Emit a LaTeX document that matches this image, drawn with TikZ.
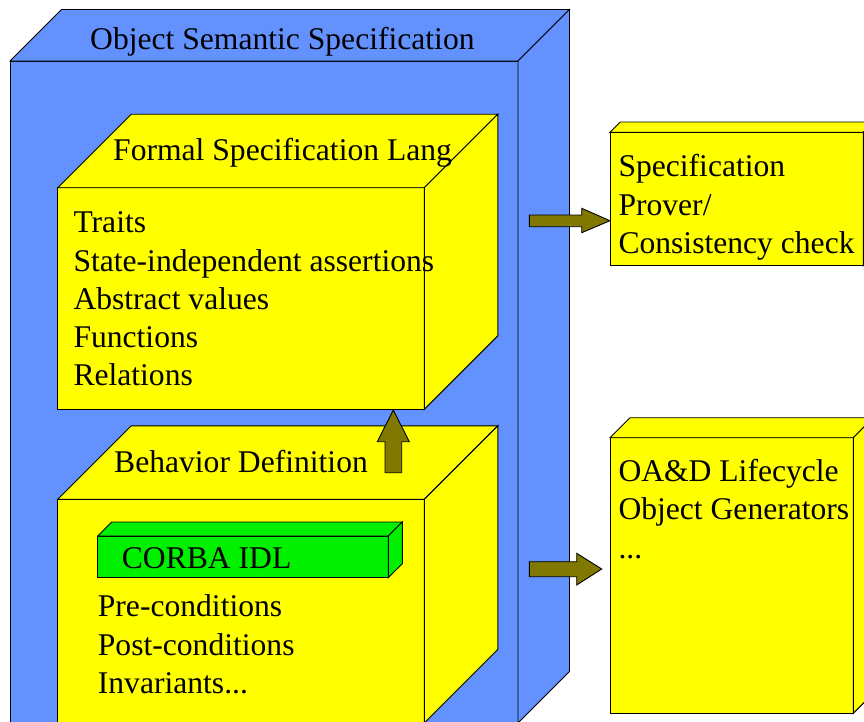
\documentclass[tikz,border=0pt]{standalone}
\usepackage{fontspec}
\setmainfont{Liberation Serif}
\definecolor{bluebox}{RGB}{99,146,255}
\definecolor{ybox}{RGB}{255,255,0}
\definecolor{gbox}{RGB}{0,240,0}
\definecolor{olivearrow}{RGB}{128,120,0}
\tikzset{
  face/.style={draw=black, line width=0.9pt, line join=miter},
  lbl/.style={anchor=base west, inner sep=0pt, font=\fontsize{31.6}{38}\selectfont},
  fatarrow/.style={draw=black, line width=0.9pt, fill=olivearrow, line join=miter},
}
% front top-left x,y ; front bottom-right x,y ; depth ; colour
\newcommand\mycuboid[6]{%
  \filldraw[face, fill=#6] (#1,#2) rectangle (#3,#4);
  \filldraw[face, fill=#6] (#1,#2) -- ({#1+#5},{#2-#5}) -- ({#3+#5},{#2-#5}) -- (#3,#2) -- cycle;
  \filldraw[face, fill=#6] (#3,#2) -- ({#3+#5},{#2-#5}) -- ({#3+#5},{#4-#5}) -- (#3,#4) -- cycle;
}
\begin{document}
\begin{tikzpicture}[x=1pt,y=-1pt]
\useasboundingbox (0,0) rectangle (864,721);
\clip (0,0) rectangle (864,721);
% outer blue box
\mycuboid{10}{61}{518}{723}{51.5}{bluebox}
\node[lbl] (title) at (90,49) {Object Semantic Specification};
% formal specification box
\mycuboid{57.7}{187.7}{424.3}{409.3}{73.5}{ybox}
\node[lbl] (fsl) at (113,160) {Formal Specification Lang};
\node[lbl] (fs1) at (73.3,232.7) {Traits};
\node[lbl] (fs2) at (73.3,271.2) {State-independent assertions};
\node[lbl] (fs3) at (73.3,309.3) {Abstract values};
\node[lbl] (fs4) at (73.3,347) {Functions};
\node[lbl] (fs5) at (73.3,385) {Relations};
% behavior definition box
\mycuboid{57.7}{499.3}{424.3}{723}{73.5}{ybox}
\node[lbl] (bd) at (114,472.7) {Behavior Definition};
% CORBA IDL
\mycuboid{97.7}{536}{388.3}{577.7}{14}{gbox}
\node[lbl] (idl) at (121.7,568.3) {CORBA IDL};
\node[lbl] (bd1) at (97.7,616.7) {Pre-conditions};
\node[lbl] (bd2) at (97.7,655) {Post-conditions};
\node[lbl] (bd3) at (97.7,693.3) {Invariants...};
% up arrow
\filldraw[fatarrow] (385,472.7) -- (385,441.7) -- (377.3,441.7) -- (393.3,410)
  -- (409.3,441.7) -- (401.7,441.7) -- (401.7,472.7) -- cycle;
% right boxes
\mycuboid{610}{132.3}{863.3}{265.7}{10.3}{ybox}
\node[lbl] (sp1) at (618.3,176.7) {Specification};
\node[lbl] (sp2) at (618.3,215) {Prover/};
\node[lbl] (sp3) at (618.3,253.3) {Consistency check};
\mycuboid{610}{437.7}{853.3}{713.3}{20}{ybox}
\node[lbl] (oa1) at (618.3,481) {OA\&D Lifecycle};
\node[lbl] (oa2) at (618.3,519) {Object Generators};
\node[lbl] (oa3) at (618.3,558.3) {...};
% right arrows
\filldraw[fatarrow] (529.3,215) -- (581.7,215) -- (581.7,208.3) -- (610,220.7)
  -- (581.7,232.7) -- (581.7,226.7) -- (529.3,226.7) -- cycle;
\filldraw[fatarrow] (529.3,561.7) -- (576.7,561.7) -- (576.7,553.3) -- (601.7,569)
  -- (576.7,585) -- (576.7,576.7) -- (529.3,576.7) -- cycle;
\end{tikzpicture}
\end{document}
